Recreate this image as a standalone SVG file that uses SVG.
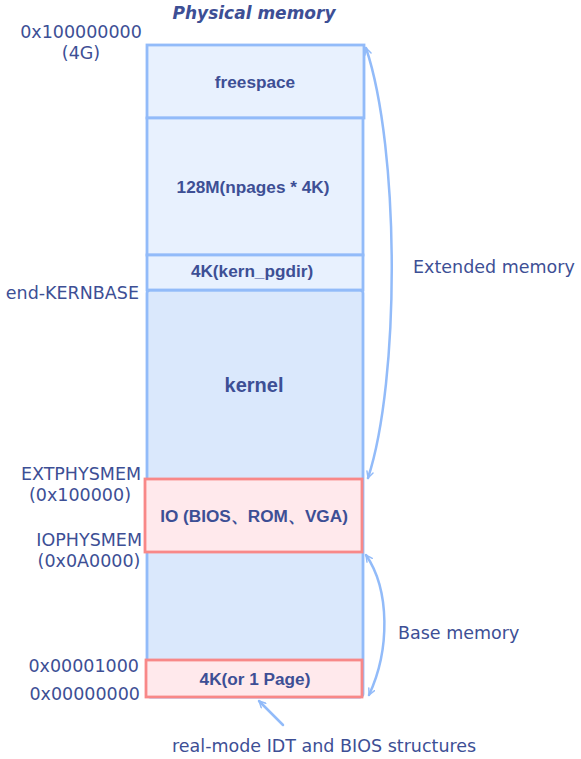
<svg xmlns="http://www.w3.org/2000/svg" width="581" height="759" viewBox="0 0 581 759">
<style>
.lbl{font-family:"DejaVu Sans",Verdana,sans-serif;font-size:17.5px;fill:#3d4f95}
.box{font-family:"Liberation Sans",Arial,sans-serif;font-size:17.2px;font-weight:bold;fill:#3d4f95;text-anchor:middle}
.blue{fill:#e8f1fe;stroke:#92bbf9;stroke-width:2.8}
.blue2{fill:#dae8fc;stroke:#92bbf9;stroke-width:2.8}
.pink{fill:#ffe9ec;stroke:#f88888;stroke-width:2.8}
.conn{fill:none;stroke:#92bbf9;stroke-width:2.5;stroke-linecap:round}
</style>
<defs>
<marker id="ah" viewBox="0 0 10 10" refX="9" refY="5" markerWidth="8" markerHeight="8" orient="auto-start-reverse" markerUnits="userSpaceOnUse">
<path d="M1,1 L9,5 L1,9" fill="none" stroke="#92bbf9" stroke-width="1.8" stroke-linecap="round"/>
</marker>
</defs>
<text x="254" y="19" style="font-family:'DejaVu Sans',Verdana,sans-serif;font-size:17px;font-weight:bold;font-style:italic;fill:#3d4f95;text-anchor:middle">Physical memory</text>
<g id="kernel"><rect x="147" y="290" width="216" height="407" rx="3" class="blue2"/><text x="254" y="392" class="box" style="font-size:20px">kernel</text></g>
<g id="freespace"><rect x="147" y="45" width="217" height="73" class="blue"/><text x="255" y="88" class="box">freespace</text></g>
<g id="npages"><rect x="147" y="118" width="216" height="137" class="blue"/><text x="253" y="193" class="box">128M(npages * 4K)</text></g>
<g id="kern_pgdir"><rect x="147" y="255" width="216" height="35" class="blue"/><text x="252" y="277" class="box">4K(kern_pgdir)</text></g>
<g id="io"><rect x="145" y="479" width="217" height="73" class="pink"/><text x="254" y="522" class="box">IO (BIOS、ROM、VGA)</text></g>
<g id="page0"><rect x="146" y="660" width="216" height="37" class="pink"/><text x="255" y="685" class="box">4K(or 1 Page)</text></g>
<g id="labels">
<text x="81" y="38" class="lbl" text-anchor="middle">0x100000000</text>
<text x="81" y="59" class="lbl" text-anchor="middle">(4G)</text>
<text x="139" y="299" class="lbl" text-anchor="end">end-KERNBASE</text>
<text x="81" y="480" class="lbl" text-anchor="middle">EXTPHYSMEM</text>
<text x="80" y="501" class="lbl" text-anchor="middle">(0x100000)</text>
<text x="142" y="546" class="lbl" text-anchor="end">IOPHYSMEM</text>
<text x="89" y="567" class="lbl" text-anchor="middle">(0x0A0000)</text>
<text x="139" y="672" class="lbl" text-anchor="end">0x00001000</text>
<text x="140" y="700" class="lbl" text-anchor="end">0x00000000</text>
<text x="413" y="273" class="lbl">Extended memory</text>
<text x="398" y="639" class="lbl">Base memory</text>
<text x="172" y="752" class="lbl">real-mode IDT and BIOS structures</text>
</g>
<g id="connectors">
<path class="conn" d="M368,478 C400,380 400,150 366,48" marker-start="url(#ah)" marker-end="url(#ah)"/>
<path class="conn" d="M366,555 C390,590 390,650 369,695" marker-start="url(#ah)" marker-end="url(#ah)"/>
<path class="conn" d="M283,725 L259,701" marker-end="url(#ah)"/>
</g>
</svg>
